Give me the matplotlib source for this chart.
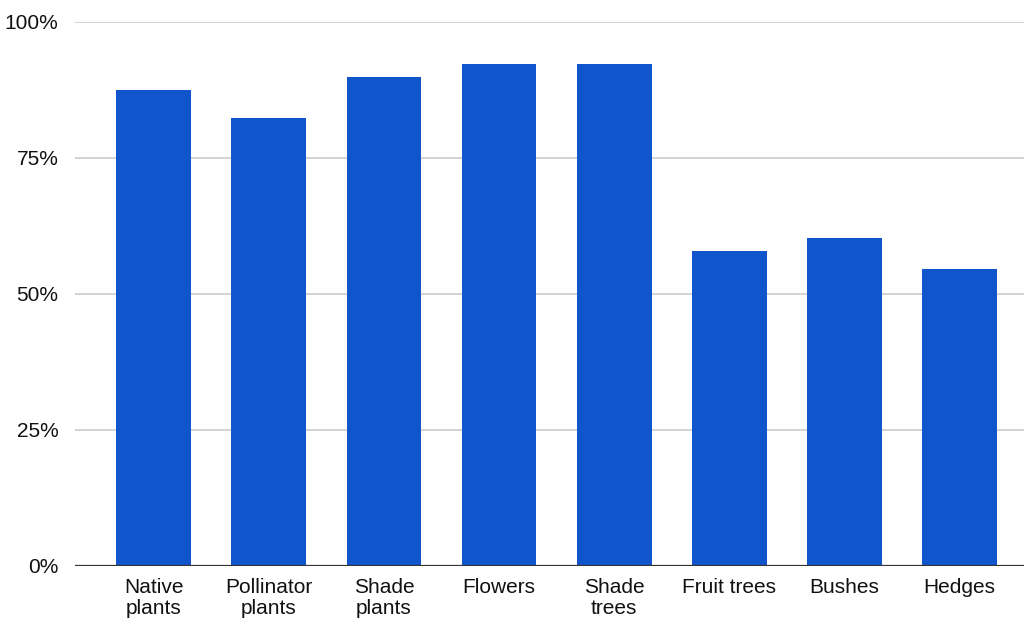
import matplotlib
matplotlib.use("Agg")
import matplotlib.pyplot as plt
from matplotlib.ticker import FuncFormatter

categories = ["Native\nplants", "Pollinator\nplants", "Shade\nplants", "Flowers",
              "Shade\ntrees", "Fruit trees", "Bushes", "Hedges"]
shares = [87.5, 82.2, 89.9, 92.3, 92.3, 57.9, 60.3, 54.6]
y_ticks = [0, 25, 50, 75, 100]

plt.rcParams["font.family"] = ["Liberation Sans", "DejaVu Sans"]

fig = plt.figure(figsize=(10.25, 6.21), dpi=100)
ax = fig.add_axes([75 / 1025, 1 - 565.5 / 621, 949 / 1025, (565.5 - 21.7) / 621])

x = list(range(len(categories)))
ax.bar(x, shares, width=0.65, color="#1155cc", zorder=3)

ax.set_xlim(-0.684, 7.56)
ax.set_ylim(0, 100)
ax.set_yticks(y_ticks)
ax.yaxis.set_major_formatter(FuncFormatter(lambda v, _: f"{v:.0f}%"))
ax.set_xticks(x)
ax.set_xticklabels(categories, linespacing=1.12)

ax.grid(axis="y", color="#cccccc", linewidth=1.2, zorder=0)
ax.axhline(0, color="#333333", linewidth=1.6, zorder=4)
for side in ["top", "right", "left", "bottom"]:
    ax.spines[side].set_visible(False)
ax.tick_params(axis="both", length=0, labelsize=15, colors="#111111")
ax.tick_params(axis="y", pad=12)
ax.tick_params(axis="x", pad=9)

fig.savefig("out.png", dpi=100)
